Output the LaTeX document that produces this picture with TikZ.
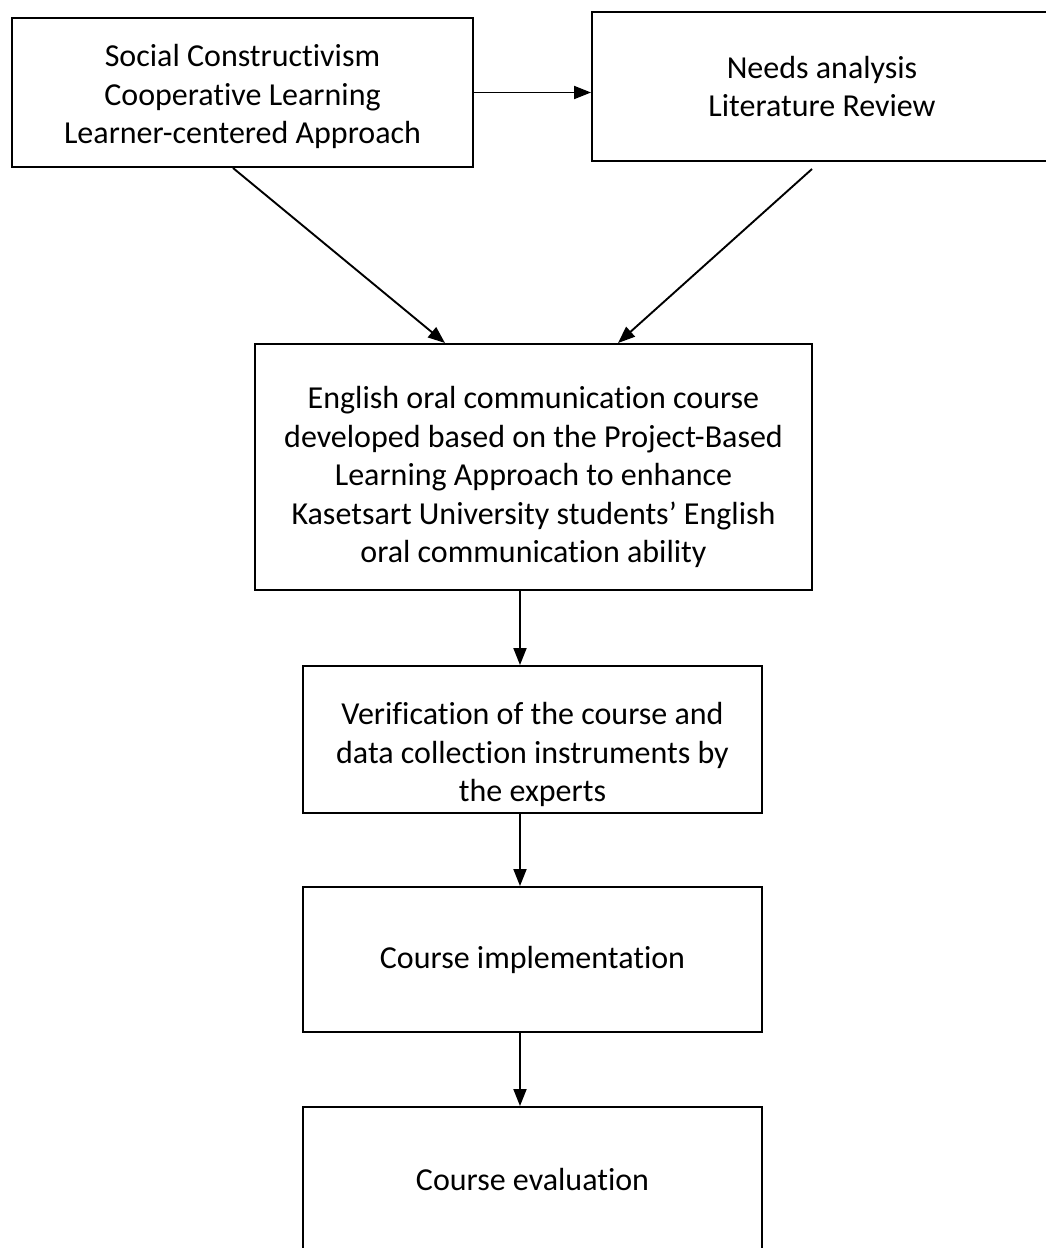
\documentclass[tikz,border=0pt]{standalone}
\usepackage{fontspec}
\setmainfont{Carlito}[Ligatures=NoCommon]
\usetikzlibrary{arrows.meta}
\newcommand{\lowerby}[1]{\rule{0pt}{#1}}

\begin{document}
\begin{tikzpicture}[x=1pt,y=-1pt,
              box/.style={draw,rectangle,line width=2pt,inner sep=0pt,align=center,
                font=\fontsize{32}{38.5}\selectfont},
              arr/.style={-{Triangle[length=17pt,width=13pt]},line width=1.9pt}]
  \useasboundingbox (0,0) rectangle (1046,1248);
  \node[box,minimum width=461pt,minimum height=149pt] (theory) at (242.5,92.5)
    {\lowerby{31pt}Social Constructivism\\Cooperative Learning\\Learner-centered Approach};
  \node[box,minimum width=460pt,minimum height=149pt] (needs) at (822,86.5)
    {Needs analysis\\Literature Review};
  \node[box,minimum width=557pt,minimum height=246pt] (course) at (533.5,467)
    {\lowerby{43pt}English oral communication course\\developed based on the Project-Based\\Learning Approach to enhance\\Kasetsart University students’ English\\oral communication ability};
  \node[box,minimum width=459pt,minimum height=147pt] (verify) at (532.5,739.5)
    {\lowerby{53pt}Verification of the course and\\data collection instruments by\\the experts};
  \node[box,minimum width=459pt,minimum height=145pt] (implement) at (532.5,959.5)
    {Course implementation};
  \node[box,minimum width=459pt,minimum height=145pt] (evaluate) at (532.5,1179.5)
    {Course evaluation};
  \draw[arr] (theory.east) -- (theory.east -| needs.west);
  \draw[arr] ([xshift=-9.5pt]theory.south) -- ([xshift=-88.5pt]course.north);
  \draw[arr] ([xshift=-10pt,yshift=-7pt]needs.south) -- ([xshift=84.5pt]course.north);
  \draw[arr] ([xshift=-13.5pt]course.south) -- ([xshift=-12.5pt]verify.north);
  \draw[arr] ([xshift=-12.5pt]verify.south) -- ([xshift=-12.5pt]implement.north);
  \draw[arr] ([xshift=-12.5pt]implement.south) -- ([xshift=-12.5pt]evaluate.north);
\end{tikzpicture}
\end{document}
